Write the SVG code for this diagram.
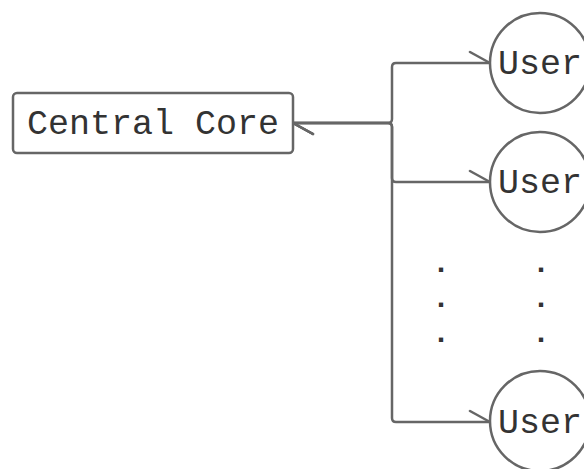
<svg xmlns="http://www.w3.org/2000/svg" width="584" height="469" viewBox="0 0 584 469">
<defs>
<style>
.shape{fill:#ffffff;stroke:#666666;stroke-width:2.5}
.conn{fill:none;stroke:#666666;stroke-width:2.5;marker-start:url(#half);marker-end:url(#half)}
.lbl{font-family:"Liberation Mono","DejaVu Sans Mono",monospace;font-size:35px;fill:#333333;text-anchor:middle}
.dot{font-family:"Liberation Mono","DejaVu Sans Mono",monospace;font-size:30px;font-weight:bold;fill:#333333;text-anchor:middle}
</style>
<marker id="half" markerUnits="userSpaceOnUse" markerWidth="30" markerHeight="30" refX="22" refY="14" orient="auto-start-reverse" viewBox="0 0 30 30">
<path d="M22 14 L2 3" fill="none" stroke="#666666" stroke-width="2.5" stroke-linecap="round"/>
</marker>
</defs>
<rect width="584" height="469" fill="#ffffff"/>
<g id="connectors">
<path class="conn" d="M293 123 H388 Q392 123 392 119 V67 Q392 63 396 63 H490"/>
<path class="conn" d="M293 123 H388 Q392 123 392 127 V178 Q392 182 396 182 H490"/>
<path class="conn" d="M293 123 H388 Q392 123 392 127 V418 Q392 422 396 422 H490"/>
</g>
<g id="central-core">
<rect class="shape" x="13" y="93" width="280" height="60" rx="4"/>
<text class="lbl" x="153" y="134">Central Core</text>
</g>
<g id="user-1">
<circle class="shape" cx="540" cy="63" r="50"/>
<text class="lbl" x="540" y="74">User</text>
</g>
<g id="user-2">
<circle class="shape" cx="540" cy="182" r="50"/>
<text class="lbl" x="540" y="193">User</text>
</g>
<g id="user-3">
<circle class="shape" cx="540" cy="421" r="50"/>
<text class="lbl" x="540" y="433">User</text>
</g>
<g id="ellipsis">
<text class="dot" x="441" y="272">.</text>
<text class="dot" x="441" y="307">.</text>
<text class="dot" x="441" y="342">.</text>
<text class="dot" x="541" y="272">.</text>
<text class="dot" x="541" y="307">.</text>
<text class="dot" x="541" y="342">.</text>
</g>
</svg>
